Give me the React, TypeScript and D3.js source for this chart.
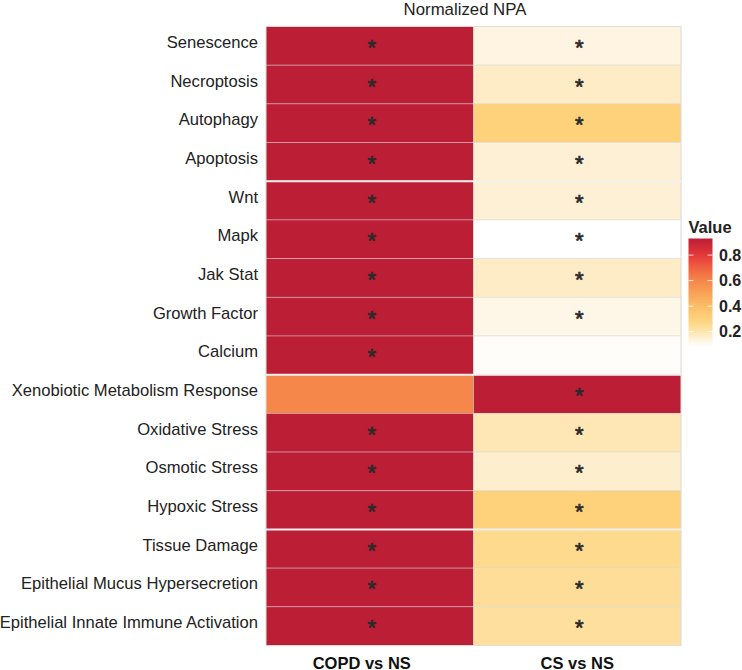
import React from "react";
import * as d3 from "d3";

const pathways = [
  "Senescence", "Necroptosis", "Autophagy", "Apoptosis",
  "Wnt", "Mapk", "Jak Stat", "Growth Factor", "Calcium",
  "Xenobiotic Metabolism Response", "Oxidative Stress", "Osmotic Stress", "Hypoxic Stress",
  "Tissue Damage", "Epithelial Mucus Hypersecretion", "Epithelial Innate Immune Activation",
];
const groupBreaksAfter = ["Apoptosis", "Calcium", "Hypoxic Stress"];
const comparisons = ["COPD vs NS", "CS vs NS"];
const copdValues = [0.93, 0.93, 0.93, 0.93, 0.93, 0.93, 0.93, 0.93, 0.93, 0.6, 0.93, 0.93, 0.93, 0.93, 0.93, 0.93];
const csValues = [0.13, 0.17, 0.3, 0.15, 0.15, 0.08, 0.17, 0.12, 0.09, 0.93, 0.19, 0.16, 0.3, 0.26, 0.24, 0.23];
const copdSig = [1, 1, 1, 1, 1, 1, 1, 1, 1, 0, 1, 1, 1, 1, 1, 1];
const csSig = [1, 1, 1, 1, 1, 1, 1, 1, 0, 1, 1, 1, 1, 1, 1, 1];
const legendTicks = [0.2, 0.4, 0.6, 0.8];
const colorStops = [0.08, 0.15, 0.2, 0.3, 0.4, 0.5, 0.6, 0.7, 0.8, 0.93];
const colorRange = ["#FFFFFF", "#FDF0D5", "#FEE5AC", "#FDD27A", "#FCBD68", "#F9A257", "#F5874A", "#EF6240", "#E3383A", "#BC1E35"];

const FONT = "'Liberation Sans', Arial, Helvetica, sans-serif";

export default function App() {
  const left = 266, right = 681, top = 26.5, bottom = 645.5;
  const y = d3.scaleBand<string>().domain(pathways).range([top, bottom]);
  const x = d3.scaleBand<string>().domain(comparisons).range([left, right]);
  const color = d3.scaleLinear<string>().domain(colorStops).range(colorRange).clamp(true);
  const series = [copdValues, csValues];
  const sigs = [copdSig, csSig];
  const labelNudge = [-8, 0];

  const legTop = 238.5, legBottom = 347, legX = 688.5, legW = 24;
  const ly = d3.scaleLinear().domain([colorStops[0], colorStops[colorStops.length - 1]]).range([legBottom, legTop]);
  const gradStops = d3.range(0, 21).map((i) => {
    const v = colorStops[0] + (i / 20) * (colorStops[colorStops.length - 1] - colorStops[0]);
    return { offset: `${(i / 20) * 100}%`, color: color(v) };
  });

  return (
    <div style={{ position: "absolute", left: 0, top: 0 }}>
      <svg width={742} height={670} style={{ display: "block", fontFamily: FONT }}>
        <defs>
          <linearGradient id="leg" x1="0" y1="1" x2="0" y2="0">
            {gradStops.map((s, i) => (
              <stop key={i} offset={s.offset} stopColor={s.color} />
            ))}
          </linearGradient>
        </defs>
        <rect x={0} y={0} width={742} height={670} fill="#fff" />
        <text x={465} y={14.5} textAnchor="middle" fontSize={16.8} fill="#222">Normalized NPA</text>
        {comparisons.map((c, ci) =>
          pathways.map((p, pi) => (
            <rect key={c + p} x={x(c)!} y={y(p)!} width={x.bandwidth()} height={y.bandwidth()}
              fill={color(series[ci][pi])} stroke="rgba(215,215,215,0.55)" strokeWidth={0.8} />
          ))
        )}
        <rect x={left} y={top} width={right - left} height={bottom - top} fill="none" stroke="#e2ddd6" strokeWidth={0.8} />
        {groupBreaksAfter.map((p) => {
          const yy = y(p)! + y.bandwidth();
          return <line key={p} x1={left} x2={right} y1={yy} y2={yy} stroke="#f4f0f0" strokeWidth={2} />;
        })}
        {comparisons.map((c, ci) =>
          pathways.map((p, pi) =>
            sigs[ci][pi] ? (
              <text key={"s" + c + p} x={x(c)! + x.bandwidth() / 2 + 2} y={y(p)! + y.bandwidth() / 2 + 9}
                textAnchor="middle" fontSize={22} fill="#2a2a2a" stroke="#2a2a2a" strokeWidth={0.7}>*</text>
            ) : null
          )
        )}
        {pathways.map((p) => (
          <text key={"l" + p} x={258} y={y(p)! + y.bandwidth() / 2 + 2} textAnchor="end" fontSize={16.6} fill="#222">{p}</text>
        ))}
        {comparisons.map((c, ci) => (
          <text key={"c" + c} x={x(c)! + x.bandwidth() / 2 + labelNudge[ci]} y={668.5} textAnchor="middle" fontSize={16.5} fontWeight="bold" fill="#111">{c}</text>
        ))}
        <text x={legX} y={232.5} fontSize={16.5} fontWeight="bold" fill="#222">Value</text>
        <rect x={legX} y={legTop} width={legW} height={legBottom - legTop} fill="url(#leg)" />
        {legendTicks.map((t) => (
          <g key={t}>
            <line x1={legX} x2={legX + 5} y1={ly(t)} y2={ly(t)} stroke="#fff" strokeWidth={0.8} />
            <line x1={legX + legW - 5} x2={legX + legW} y1={ly(t)} y2={ly(t)} stroke="#fff" strokeWidth={0.8} />
            <text x={719} y={ly(t) + 5.5} fontSize={16} fontWeight="bold" fill="#222">{t.toFixed(1)}</text>
          </g>
        ))}
      </svg>
    </div>
  );
}
